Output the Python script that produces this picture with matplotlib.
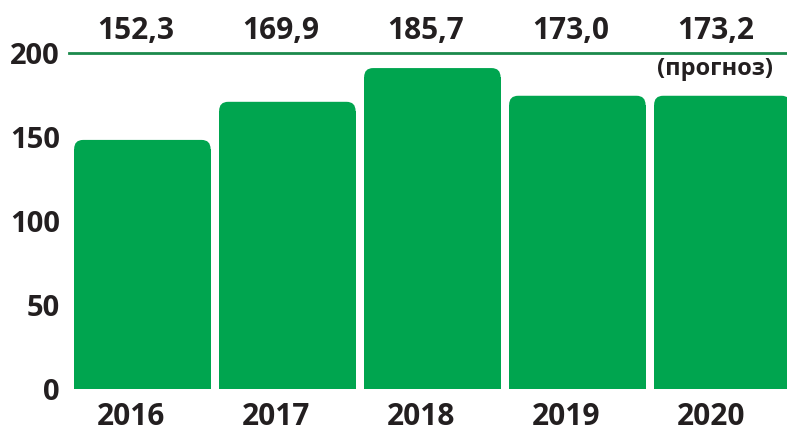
"""Bar chart: yearly values with forecast for 2020."""

import matplotlib
matplotlib.use("Agg")
import matplotlib.pyplot as plt
from matplotlib.patches import FancyBboxPatch

years = ["2016", "2017", "2018", "2019", "2020"]
# bar heights as drawn in the picture
bar_heights = [148.4, 171.1, 191.2, 174.7, 174.7]
# value labels printed above the chart
value_labels = ["152,3", "169,9", "185,7", "173,0", "173,2"]
forecast_note = "(прогноз)"
y_ticks = [0, 50, 100, 150, 200]

GREEN = "#00a54f"
LINE_GREEN = "#1b8a4c"
TEXT = "#231f20"

plt.rcParams["font.family"] = ["Open Sans", "DejaVu Sans"]
plt.rcParams["font.weight"] = "bold"

fig = plt.figure(figsize=(7.87, 4.30), dpi=100)
ax = fig.add_axes([69 / 787, 41 / 430, 718 / 787, (389 - 53.3) / 430])

x = list(range(len(years)))
ax.set_xlim(-0.506, 4.446)
ax.set_ylim(0, 200)

# rounded top corners: radius in pixels converted to data units
px_per_x = 718 / (4.446 + 0.506)
px_per_y = (389 - 53.3) / 200
r_px = 9
rx = r_px / px_per_x
ry = r_px / px_per_y

bars = ax.bar(x, bar_heights, width=0.941, color=GREEN, linewidth=0)
for b in bars:
    bx, bw, bh = b.get_x(), b.get_width(), b.get_height()
    b.set_height(bh - ry)
    ax.add_patch(FancyBboxPatch((bx, 0), bw, bh,
                                boxstyle=f"round,pad=0,rounding_size={rx}",
                                mutation_aspect=ry / rx,
                                facecolor=GREEN, edgecolor="none"))

ax.axhline(200, color=LINE_GREEN, linewidth=2, clip_on=False)

for xi, lab in zip(x, value_labels):
    ax.text(xi - 0.048, 213, lab, ha="center", va="center",
            fontsize=21.5, fontweight="bold", color=TEXT, clip_on=False)
ax.text(x[-1] - 0.05, 190.5, forecast_note, ha="center", va="center",
        fontsize=17, fontweight="bold", color=TEXT)

for xi, yr in zip(x, years):
    ax.text(xi - 0.076, -16.7, yr, ha="center", va="center",
            fontsize=21.5, fontweight="bold", color=TEXT, clip_on=False)

ax.set_yticks(y_ticks)
ax.set_yticklabels([str(t) for t in y_ticks], fontsize=21, fontweight="bold", color=TEXT)
ax.tick_params(axis="y", length=0, pad=6.5)
ax.set_xticks([])
for s in ax.spines.values():
    s.set_visible(False)

fig.savefig("out.png", dpi=100, facecolor="white")
